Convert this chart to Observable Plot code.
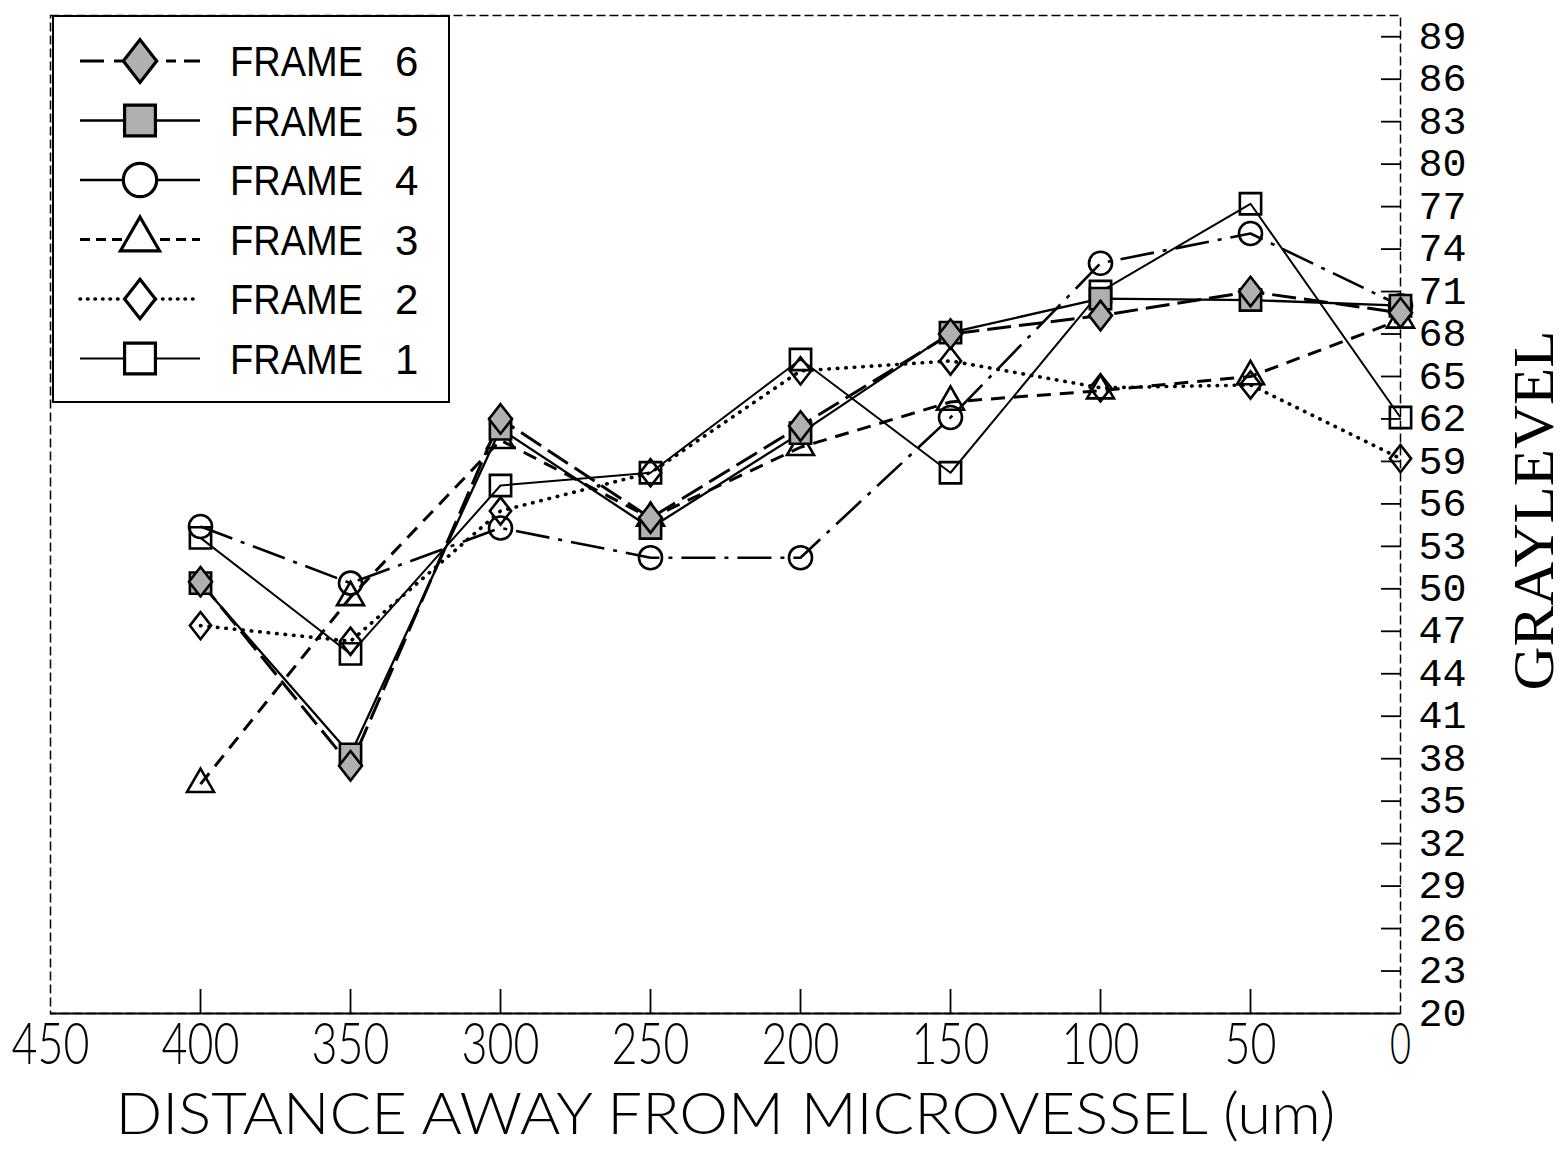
<!DOCTYPE html>
<html><head><meta charset="utf-8">
<script src="https://cdn.jsdelivr.net/npm/d3@7"></script>
<script src="https://cdn.jsdelivr.net/npm/@observablehq/plot@0.6"></script>
<style>
html,body{margin:0;padding:0;background:#fff;}
#wrap{position:relative;width:1564px;height:1149px;overflow:hidden;}
#legend{position:absolute;left:52px;top:15px;width:398px;height:388px;box-sizing:border-box;border:2px solid #000;background:#fff;}
#legend svg{display:block;}
</style></head><body><div id="wrap"></div>
<script>
// ---- data ----
const distances = [400, 350, 300, 250, 200, 150, 100, 50, 0];
const frame1 = [53.6, 45.4, 57.3, 58.2, 66.2, 58.2, 71.0, 77.2, 62.1];
const frame2 = [47.4, 46.3, 55.5, 58.2, 65.4, 66.1, 64.2, 64.4, 59.2];
const frame3 = [36.2, 49.4, 60.5, 55.0, 60.0, 63.2, 64.0, 65.0, 69.0];
const frame4 = [54.4, 50.4, 54.3, 52.2, 52.2, 62.1, 73.0, 75.1, 70.0];
const frame5 = [50.4, 38.3, 61.3, 54.3, 61.0, 68.1, 70.5, 70.4, 70.0];
const frame6 = [50.5, 37.5, 62.0, 55.0, 61.5, 68.0, 69.3, 71.0, 69.5];
const seriesNames = ["FRAME 1", "FRAME 2", "FRAME 3", "FRAME 4", "FRAME 5", "FRAME 6"];
const seriesValues = [frame1, frame2, frame3, frame4, frame5, frame6];
const xTickLabels = [450, 400, 350, 300, 250, 200, 150, 100, 50, 0];
const xTickMarks = [400, 350, 300, 250, 200, 150, 100, 50];
const yTickLabels = [20, 23, 26, 29, 32, 35, 38, 41, 44, 47, 50, 53, 56, 59, 62, 65, 68, 71, 74, 77, 80, 83, 86, 89];
const yTickMarks = [23, 26, 29, 32, 35, 38, 41, 44, 47, 50, 53, 56, 59, 62, 65, 68, 71, 74, 77, 80, 83, 86, 89];
const xTitle = "DISTANCE AWAY FROM MICROVESSEL (um)";
const yTitle = "GRAYLEVEL";

// ---- table ----
const rows = [];
seriesNames.forEach((name, i) => distances.forEach((d, j) => rows.push({series: name, distance: d, value: seriesValues[i][j]})));

// ---- styles ----
const diamondSymbol = {draw(ctx, size) {
  const h = Math.sqrt(size) * 0.64, w = h * 0.78;
  ctx.moveTo(0, -h); ctx.lineTo(w, 0); ctx.lineTo(0, h); ctx.lineTo(-w, 0); ctx.closePath();
}};
const GRAY = "#b0b0b0";
const styles = {
  "FRAME 1": {symbol: "square", d3sym: d3.symbolSquare, fill: "none", dash: null, legendDash: null, width: 2, r: 12, cap: "butt"},
  "FRAME 2": {symbol: diamondSymbol, d3sym: diamondSymbol, fill: "none", dash: "0.5,8", legendDash: "0.5,7", width: 3.6, r: 12, cap: "round"},
  "FRAME 3": {symbol: "triangle", d3sym: d3.symbolTriangle, fill: "none", dash: "14,9", legendDash: "10,6", width: 3, r: 10, cap: "butt"},
  "FRAME 4": {symbol: "circle", d3sym: d3.symbolCircle, fill: "none", dash: "34,9,4,9", legendDash: null, width: 2.6, r: 11.5, cap: "butt"},
  "FRAME 5": {symbol: "square", d3sym: d3.symbolSquare, fill: GRAY, dash: null, legendDash: null, width: 2.3, r: 12, cap: "butt"},
  "FRAME 6": {symbol: diamondSymbol, d3sym: diamondSymbol, fill: GRAY, dash: "24,8", legendDash: "24,10,10,8", width: 3, r: 13, cap: "butt"}
};

const lineMarks = seriesNames.map(name => Plot.line(rows.filter(r => r.series === name), {
  x: "distance", y: "value", stroke: "black", strokeWidth: styles[name].width,
  strokeDasharray: styles[name].dash, strokeLinecap: styles[name].cap
}));
const dotMarks = seriesNames.map(name => Plot.dot(rows.filter(r => r.series === name), {
  x: "distance", y: "value", symbol: styles[name].symbol, r: styles[name].r,
  stroke: "black", strokeWidth: 2.6, fill: styles[name].fill
}));

const THIN = "Lato, 'Open Sans', 'Liberation Sans', sans-serif";

const chart = Plot.plot({
  width: 1564, height: 1149,
  marginLeft: 50, marginRight: 164, marginTop: 15, marginBottom: 136,
  style: {background: "white", color: "black"},
  x: {domain: [450, 0]},
  y: {domain: [20, 90.5]},
  marks: [
    Plot.frame({stroke: "black", strokeWidth: 1.5, strokeDasharray: "9,4"}),
    Plot.ruleY([20], {stroke: "black", strokeWidth: 2}),
    Plot.axisX(xTickMarks, {tickSize: -24, fill: "none", strokeWidth: 1.8, label: null}),
    Plot.axisX(xTickLabels, {tickSize: 0, tickPadding: 9, fontSize: 58, fontWeight: 300, fontFamily: THIN, label: null}),
    Plot.axisY(yTickMarks, {anchor: "right", tickSize: -20, fill: "none", strokeWidth: 1.8, label: null}),
    Plot.axisY(yTickLabels, {anchor: "right", tickSize: 0, tickPadding: 18, fontSize: 38, fontFamily: "'Liberation Mono', monospace", label: null}),
    Plot.text([xTitle], {frameAnchor: "bottom", lineAnchor: "middle", textAnchor: "middle", dy: 102, fontSize: 58, fontWeight: 300, fontFamily: THIN, fill: "black"}),
    Plot.text([yTitle], {frameAnchor: "right", lineAnchor: "middle", textAnchor: "middle", dx: 135, dy: -4, rotate: -90, fontSize: 56, fontFamily: "'Liberation Serif', serif", fill: "black"}),
    ...lineMarks,
    ...dotMarks
  ]
});

const wrap = document.getElementById("wrap");
wrap.appendChild(chart);

// condense axis texts to the widths of the reference lettering
const svg = d3.select(chart);
svg.selectAll("text").each(function() {
  const t = d3.select(this);
  const s = t.text();
  if (s === xTitle) t.attr("textLength", 1220).attr("lengthAdjust", "spacingAndGlyphs");
  else if (s === yTitle) t.attr("textLength", 360).attr("lengthAdjust", "spacingAndGlyphs");
});
svg.selectAll("g[aria-label='x-axis tick label'] text").each(function() {
  const t = d3.select(this);
  const n = t.text().length;
  t.attr("textLength", n === 1 ? 21 : 26 * n).attr("lengthAdjust", "spacingAndGlyphs");
});
svg.selectAll("g[aria-label='y-axis tick label'] text").each(function() {
  const t = d3.select(this);
  t.attr("textLength", 24 * t.text().length).attr("lengthAdjust", "spacingAndGlyphs");
});

// ---- legend (overlaid box, top-left of the frame) ----
const legend = document.createElement("div");
legend.id = "legend";
wrap.appendChild(legend);
const lsvg = d3.select(legend).append("svg").attr("width", 394).attr("height", 384);
const legendOrder = seriesNames.slice().reverse();
legendOrder.forEach((name, i) => {
  const st = styles[name];
  const cy = 44 + i * 59.5;
  lsvg.append("line").attr("x1", 26).attr("x2", 146).attr("y1", cy).attr("y2", cy)
    .attr("stroke", "black").attr("stroke-width", st.width)
    .attr("stroke-dasharray", st.legendDash).attr("stroke-linecap", st.cap);
  const size = Math.PI * Math.pow(st.r * 1.45, 2);
  lsvg.append("path").attr("d", d3.symbol(st.d3sym, size)())
    .attr("transform", `translate(86,${cy})`)
    .attr("fill", st.fill === "none" ? "white" : st.fill)
    .attr("stroke", "black").attr("stroke-width", 3.2);
  const parts = name.split(" ");
  lsvg.append("text").attr("x", 176).attr("y", cy).attr("dy", "0.36em")
    .attr("font-family", "'Liberation Sans', Arial, sans-serif").attr("font-size", 42)
    .attr("textLength", 133).attr("lengthAdjust", "spacingAndGlyphs").text(parts[0]);
  lsvg.append("text").attr("x", 341).attr("y", cy).attr("dy", "0.36em")
    .attr("font-family", "'Liberation Sans', Arial, sans-serif").attr("font-size", 42)
    .text(parts[1]);
});
</script></body></html>
